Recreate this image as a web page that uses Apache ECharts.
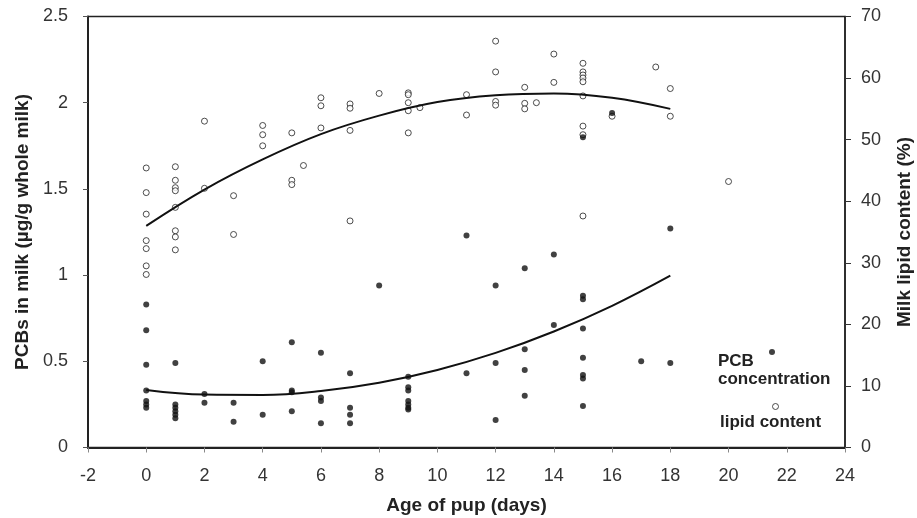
<!DOCTYPE html>
<html>
<head>
<meta charset="utf-8">
<title>PCBs and lipid in milk</title>
</head>
<body style="margin:0">
<div id="main" style="width:917px;height:518px;"></div>
<script src="https://cdn.jsdelivr.net/npm/echarts@6/dist/echarts.min.js"></script>
<script>
// filled dots: PCB concentration (left axis, µg/g whole milk)
var pcbAge = [0,0,0,0,0,0,0, 1,1,1,1,1,1, 2,2, 3,3, 4,4, 5,5,5,5, 6,6,6,6, 7,7,7,7, 8,
	9,9,9,9,9,9,9, 11,11, 12,12,12, 13,13,13,13, 14,14, 15,15,15,15,15,15,15,15, 16, 17, 18,18];
var pcbValue = [0.83,0.68,0.48,0.33,0.27,0.25,0.23, 0.49,0.25,0.23,0.21,0.19,0.17, 0.31,0.26,
	0.26,0.15, 0.50,0.19, 0.61,0.33,0.32,0.21, 0.55,0.29,0.27,0.14, 0.43,0.23,0.19,0.14, 0.94,
	0.41,0.35,0.33,0.27,0.25,0.23,0.22, 1.23,0.43, 0.94,0.49,0.16, 1.04,0.57,0.45,0.30,
	1.12,0.71, 1.80,0.88,0.86,0.69,0.52,0.42,0.40,0.24, 1.94, 0.50, 1.27,0.49];

// open circles: milk lipid content (right axis, %)
var lipidAge = [0,0,0,0,0,0,0, 1,1,1,1,1,1,1,1, 2,2, 3,3, 4,4,4, 5,5,5, 5.4, 6,6,6, 7,7,7,7, 8,
	9,9,9,9,9, 9.4, 11,11, 12,12,12,12, 13,13,13, 13.4, 14,14, 15,15,15,15,15,15,15,15,15,
	16, 17.5, 18,18, 20];
var lipidValue = [45.4,41.4,37.9,33.6,32.3,29.5,28.1, 45.6,43.4,42.2,41.7,39.0,35.2,34.2,32.1,
	53.0,42.1, 40.9,34.6, 52.3,50.8,49.0, 51.1,43.4,42.7, 45.8, 56.8,55.5,51.9, 55.8,55.1,51.5,36.8,
	57.5, 57.6,57.3,56.0,54.7,51.1, 55.2, 57.3,54.0, 66.0,61.0,56.2,55.6, 58.5,55.9,55.0, 56.0,
	63.9,59.3, 62.4,61.0,60.5,60.0,59.4,57.1,52.2,50.8,37.6, 53.8, 61.8, 58.3,53.8, 43.2];

// fitted curves
var fitAge = [0,2,4,6,8,10,12,14,16,18];
var pcbFit = [0.334,0.307,0.305,0.328,0.376,0.450,0.549,0.673,0.822,0.997];
var lipidFit = [36.0,41.9,46.8,50.9,53.9,56.1,57.2,57.5,56.8,55.0];

function pairs(xs, ys) {
	return xs.map(function (x, i) { return [x, ys[i]]; });
}

var font = 'Liberation Sans';
var nameStyle = {fontSize: 19, fontWeight: 'bold', color: '#222'};
var myChart = echarts.init(document.getElementById('main'));
myChart.setOption({
	backgroundColor: '#fff',
	animation: false,
	textStyle: {fontFamily: font},
	grid: {
		left: 88, right: 72, top: 16.5, bottom: 70.5,
		outerBoundsMode: 'none', containLabel: false,
		show: true, borderColor: '#222', borderWidth: 1.5
	},
	xAxis: {
		type: 'value', min: -2, max: 24, interval: 2,
		name: 'Age of pup (days)', nameLocation: 'middle', nameGap: 49,
		nameTextStyle: nameStyle,
		axisLine: {onZero: false, lineStyle: {color: '#222', width: 2}},
		axisTick: {length: 5, lineStyle: {color: '#888'}},
		axisLabel: {fontSize: 18, color: '#333', margin: 20},
		splitLine: {show: false}
	},
	yAxis: [{
		type: 'value', min: 0, max: 2.5, interval: 0.5,
		name: 'PCBs in milk (µg/g whole milk)', nameLocation: 'middle', nameGap: 56, nameRotate: 90,
		nameTextStyle: nameStyle,
		axisLine: {show: true, onZero: false, lineStyle: {color: '#222', width: 2}},
		axisTick: {show: true, length: 5, lineStyle: {color: '#555'}},
		axisLabel: {fontSize: 18, color: '#333', margin: 20},
		splitLine: {show: false}
	}, {
		type: 'value', min: 0, max: 70, interval: 10, position: 'right',
		name: 'Milk lipid content (%)', nameLocation: 'middle', nameGap: 50, nameRotate: 90,
		nameTextStyle: nameStyle,
		axisLine: {show: true, onZero: false, lineStyle: {color: '#222', width: 1.5}},
		axisTick: {show: true, length: 6, lineStyle: {color: '#333'}},
		axisLabel: {fontSize: 18, color: '#333', margin: 16},
		splitLine: {show: false}
	}],
	legend: [{
		data: ['PCB concentration'], left: 764, top: 344,
		icon: 'circle', itemWidth: 6, itemHeight: 6,
		formatter: function () { return ''; }
	}, {
		data: ['lipid content'], left: 767, top: 398,
		icon: 'circle', itemWidth: 6, itemHeight: 6,
		itemStyle: {color: '#fff', borderColor: '#222', borderWidth: 1},
		formatter: function () { return ''; }
	}],
	graphic: [
		{type: 'text', left: 718, top: 352, style: {text: 'PCB\nconcentration', font: 'bold 17px ' + font, lineHeight: 18, fill: '#222'}},
		{type: 'text', left: 720, top: 414, style: {text: 'lipid content', font: 'bold 17px ' + font, fill: '#222'}}
	],
	series: [{
		name: 'lipid content', type: 'scatter', yAxisIndex: 1,
		symbol: 'circle', symbolSize: 6,
		itemStyle: {color: '#fff', borderColor: '#222', borderWidth: 1},
		data: pairs(lipidAge, lipidValue)
	}, {
		name: 'PCB concentration', type: 'scatter', yAxisIndex: 0,
		symbol: 'circle', symbolSize: 6,
		itemStyle: {color: '#111'},
		data: pairs(pcbAge, pcbValue)
	}, {
		name: 'lipid fit', type: 'line', yAxisIndex: 1, smooth: 0.4, showSymbol: false,
		lineStyle: {color: '#111', width: 2},
		data: pairs(fitAge, lipidFit)
	}, {
		name: 'PCB fit', type: 'line', yAxisIndex: 0, smooth: 0.4, showSymbol: false,
		lineStyle: {color: '#111', width: 2},
		data: pairs(fitAge, pcbFit)
	}]
});
</script>
</body>
</html>
